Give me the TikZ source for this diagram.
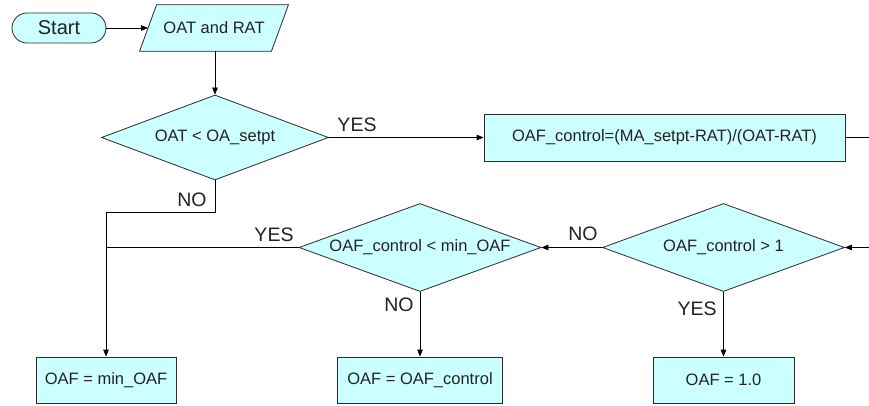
\documentclass[tikz,border=0pt]{standalone}
\usepackage{fontspec}
\setmainfont{Liberation Sans}
\usetikzlibrary{shapes.geometric,arrows.meta}
\definecolor{boxfill}{HTML}{CCFFFF}
\definecolor{edgegray}{HTML}{2B2B2B}
\definecolor{textgray}{HTML}{222222}
\begin{document}
\begin{tikzpicture}[x=1pt,y=-1pt,
  base/.style={draw=edgegray, fill=boxfill, line width=0.8pt, text=textgray,
    font=\fontsize{16.5}{19}\selectfont, inner sep=0pt},
  procbox/.style={base, rectangle, minimum height=46},
  decision/.style={base, diamond, shape aspect=2.75, minimum width=242, minimum height=88},
  terminal/.style={base, rectangle, rounded corners=15pt, minimum width=94,
    minimum height=30, font=\fontsize{20}{24}\selectfont},
  iotext/.style={rectangle, inner sep=0pt, text=textgray,
    font=\fontsize{16.5}{19}\selectfont, minimum width=131.5, minimum height=46},
  flow/.style={-{Triangle[length=7pt,width=5.5pt]}, line width=0.8pt, draw=black},
  plain/.style={line width=0.8pt, draw=black},
  lbl/.style={font=\fontsize{19.5}{22}\selectfont, text=textgray, inner sep=0pt}]
\useasboundingbox (0,0) rectangle (869,406);
\fill[white] (0,0) rectangle (869,406);
\clip (0,0) rectangle (869,406);

% shapes
\node[terminal] (start) at (59,28) {Start};
% input/output parallelogram: body drawn around a plain text node
\node[iotext] (input) at (214,28) {};
\draw[draw=edgegray, fill=boxfill, line width=0.8pt]
  ([xshift=8.5pt]input.north west) -- ([xshift=8.5pt]input.north east)
  -- ([xshift=-8.5pt]input.south east) -- ([xshift=-8.5pt]input.south west) -- cycle;
\node[iotext] at (input) {OAT and RAT};
\node[decision, shape aspect=2.67, minimum width=227, minimum height=85] (oatcheck) at (215,137.5) {OAT < OA\_setpt};
\node[procbox, minimum width=361, minimum height=47] (ctrl) at (664.5,137.5) {OAF\_control=(MA\_setpt-RAT)/(OAT-RAT)};
\node[decision] (minchk) at (420,247.5) {OAF\_control < min\_OAF};
\node[decision] (onechk) at (723.5,247.5) {OAF\_control > 1};
\node[procbox, minimum width=140] (setmin) at (106,380) {OAF = min\_OAF};
\node[procbox, minimum width=165] (setctrl) at (420,380) {OAF = OAF\_control};
\node[procbox, minimum width=141] (setone) at (723.5,380) {OAF = 1.0};

% connectors
\draw[flow] (start) -- (input);
\draw[flow] (input.south -| oatcheck.north) -- (oatcheck.north);
\draw[flow] (oatcheck) -- (ctrl);
\draw[flow] (oatcheck.south) -- ++(0,32) -| (setmin.north);
\coordinate (join) at (setmin.north |- minchk.west);
\draw[plain] (minchk.west) -- (join);
\draw[flow] (minchk) -- (setctrl);
\draw[flow] (onechk) -- (minchk);
\draw[flow] (onechk) -- (setone);
\draw[flow] (ctrl.east) -- ++(40,0) |- (onechk.east);

% branch labels
\node[lbl] (yes1) at (357,125) {YES};
\node[lbl] (no1) at (192,200) {NO};
\node[lbl] (yes2) at (274,235) {YES};
\node[lbl] (no2) at (399,305) {NO};
\node[lbl] (no3) at (583,234) {NO};
\node[lbl] (yes3) at (697,309) {YES};
\end{tikzpicture}
\end{document}
